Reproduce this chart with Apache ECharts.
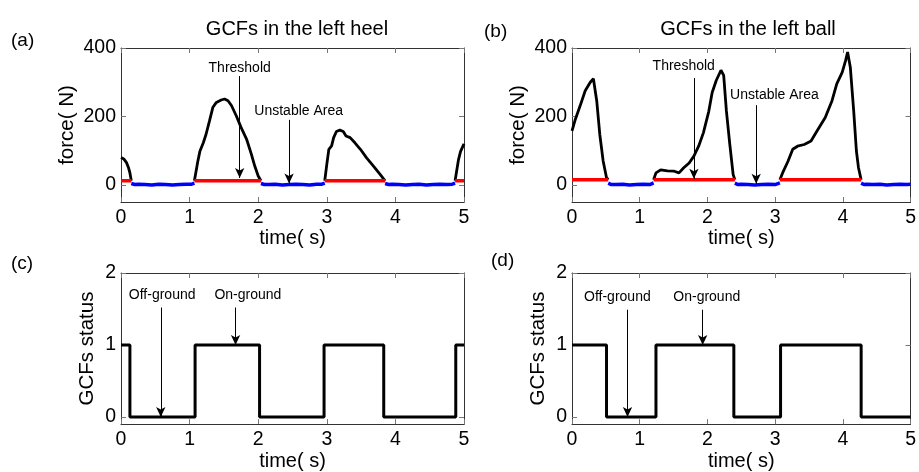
<!DOCTYPE html>
<html><head><meta charset="utf-8">
<script src="https://cdn.jsdelivr.net/npm/echarts@6/dist/echarts.min.js"></script>
<style>html,body{margin:0;padding:0;background:#fff}#c{width:919px;height:472px}</style>
</head><body><div id="c"></div>
<script>
// ---------- data ----------
const timeTicks = [0, 1, 2, 3, 4, 5];
const forceTicks = [0, 200, 400];
const statusTicks = [0, 1, 2];

// (a) left heel force (black, above threshold), null = gap
const heelT = [0, 0.04, 0.08, 0.11, 0.13, 0.15, null,
  1.07, 1.12, 1.15, 1.2, 1.24, 1.29, 1.34, 1.39, 1.46, 1.51, 1.56, 1.61, 1.68, 1.75, 1.83, 1.9, 1.95, 2.0, 2.04, null,
  2.97, 3.0, 3.03, 3.07, 3.1, 3.14, 3.19, 3.24, 3.28, 3.34, 3.41, 3.49, 3.58, 3.68, 3.78, 3.85, null,
  4.87, 4.92, 4.95, 5.0];
const heelF = [80, 76, 65, 50, 35, 12, null,
  12, 69, 98, 123, 148, 187, 227, 241, 248, 251, 246, 232, 202, 168, 134, 90, 55, 26, 12, null,
  12, 60, 104, 114, 138, 156, 160, 156, 143, 138, 123, 104, 79, 55, 30, 12, null,
  12, 74, 98, 120];
const heelThreshold = 12;
const heelOnStart = [0, 1.07, 2.97, 4.87];
const heelOnEnd = [0.15, 2.04, 3.85, 5.0];
// off-ground (blue, unstable area)
const heelOffT = [0.15, 0.2, 0.25, 0.35, 0.45, 0.55, 0.65, 0.75, 0.85, 0.95, 1.03, 1.07, null,
  2.04, 2.09, 2.15, 2.25, 2.35, 2.45, 2.55, 2.65, 2.75, 2.85, 2.93, 2.97, null,
  3.85, 3.9, 3.95, 4.05, 4.15, 4.25, 4.35, 4.45, 4.55, 4.65, 4.75, 4.83, 4.87];
const heelOffV = [4, 1, 2, 1, 0, 2, 1, 0, 1, 2, 2, 5, null,
  4, 1, 1, 2, 0, 1, 2, 1, 0, 2, 2, 5, null,
  4, 1, 2, 1, 0, 1, 2, 0, 1, 2, 1, 2, 5];
const heelStatusT = [0, 0.13, 1.08, 2.02, 2.96, 3.83, 4.88, 5];
const heelStatus = [1, 0, 1, 0, 1, 0, 1, 1];

// (b) left ball force
const ballT = [0, 0.05, 0.12, 0.195, 0.27, 0.316, 0.365, 0.41, 0.46, 0.51, 0.535, null,
  1.205, 1.24, 1.31, 1.41, 1.51, 1.58, 1.65, 1.73, 1.8, 1.87, 1.94, 2.02, 2.07, 2.13, 2.2, 2.24, 2.28, 2.33, 2.38, 2.405, null,
  3.07, 3.11, 3.19, 3.26, 3.33, 3.43, 3.53, 3.62, 3.74, 3.84, 3.91, 3.99, 4.04, 4.07, 4.11, 4.16, 4.2, 4.23, 4.27];
const ballF = [158, 192, 231, 275, 300, 310, 246, 148, 70, 21, 15, null,
  15, 35, 44, 41, 40, 35, 50, 64, 84, 113, 152, 215, 270, 305, 335, 320, 216, 119, 30, 15, null,
  15, 35, 69, 104, 113, 118, 128, 158, 197, 246, 295, 329, 363, 388, 344, 216, 99, 51, 15];
const ballThreshold = 15;
const ballOnStart = [0, 1.205, 3.07];
const ballOnEnd = [0.535, 2.405, 4.27];
const ballOffT = [0.535, 0.58, 0.65, 0.75, 0.85, 0.95, 1.05, 1.15, 1.205, null,
  2.405, 2.45, 2.5, 2.6, 2.7, 2.8, 2.9, 3.0, 3.07, null,
  4.27, 4.31, 4.35, 4.45, 4.55, 4.65, 4.75, 4.85, 4.95, 5.0];
const ballOffV = [5, 1, 1, 2, 0, 1, 2, 1, 6, null,
  5, 1, 2, 1, 0, 1, 2, 1, 6, null,
  5, 1, 2, 1, 2, 0, 1, 2, 1, 2];
const ballStatusT = [0, 0.51, 1.24, 2.39, 3.08, 4.27, 5];
const ballStatus = [1, 0, 1, 0, 1, 0, 0];

// annotations (data coordinates)
const annA = [
  { text: 'Threshold', tx: 1.73, ty: 340, ax: 1.73, y0: 318, y1: 20 },
  { text: 'Unstable Area', tx: 2.59, ty: 215, ax: 2.45, y0: 190, y1: 4 }];
const annB = [
  { text: 'Threshold', tx: 1.65, ty: 346, ax: 1.80, y0: 312, y1: 18 },
  { text: 'Unstable Area', tx: 2.99, ty: 262, ax: 2.72, y0: 233, y1: 3 }];
const annC = [
  { text: 'Off-ground', tx: 0.60, ty: 1.69, ax: 0.58, y0: 1.52, y1: 0 },
  { text: 'On-ground', tx: 1.85, ty: 1.69, ax: 1.67, y0: 1.52, y1: 1 }];
const annD = [
  { text: 'Off-ground', tx: 0.67, ty: 1.66, ax: 0.82, y0: 1.49, y1: 0 },
  { text: 'On-ground', tx: 1.99, ty: 1.66, ax: 1.93, y0: 1.49, y1: 1 }];

// ---------- helpers ----------
const FONT = 'Liberation Sans, Arial, sans-serif';
function segments(t, v) {
  const out = []; let cur = [];
  for (let i = 0; i < t.length; i++) {
    if (t[i] === null) { if (cur.length) out.push(cur); cur = []; }
    else cur.push([t[i], v[i]]);
  }
  if (cur.length) out.push(cur);
  return out;
}
function zip(t, v) { return t.map((x, i) => [x, v[i]]); }

const grids = [
  { left: 121, top: 48, width: 343, height: 154 },
  { left: 572, top: 48, width: 343, height: 154 },
  { left: 121, top: 273, width: 343, height: 154 },
  { left: 572, top: 273, width: 343, height: 154 }];

const axisLineStyle = { color: '#333', width: 1 };
const tickStyle = { color: '#777', width: 1 };
const xAxes = [], yAxes = [];
for (let i = 0; i < 4; i++) {
  const top = i < 2;
  xAxes.push({
    gridIndex: i, type: 'value', min: 0, max: 5, position: 'bottom',
    name: 'time( s)', nameLocation: 'middle', nameGap: 25,
    nameTextStyle: { fontFamily: FONT, fontSize: 20, color: '#000' },
    axisLine: { show: true, onZero: false, lineStyle: axisLineStyle },
    axisTick: { show: true, inside: true, length: 5, lineStyle: tickStyle, customValues: timeTicks },
    axisLabel: { show: true, margin: 6, fontFamily: FONT, fontSize: 19.5, color: '#000', customValues: timeTicks },
    splitLine: { show: false }
  });
  yAxes.push({
    gridIndex: i, type: 'value', position: 'left',
    min: top ? -50 : -0.1, max: top ? 400 : 2,
    name: top ? 'force( N)' : 'GCFs status', nameLocation: 'middle', nameGap: top ? 43 : 23,
    nameTextStyle: { fontFamily: FONT, fontSize: 20.5, color: '#000' },
    axisLine: { show: true, onZero: false, lineStyle: axisLineStyle },
    axisTick: { show: true, inside: true, length: 5, lineStyle: tickStyle, customValues: top ? forceTicks : statusTicks },
    axisLabel: { show: true, margin: 5, fontFamily: FONT, fontSize: 19.5, color: '#000', customValues: top ? forceTicks : statusTicks },
    splitLine: { show: false }
  });
}
for (let i = 0; i < 4; i++) {
  const top = i < 2;
  xAxes.push({
    gridIndex: i, type: 'value', min: 0, max: 5, position: 'top',
    axisLine: { show: true, onZero: false, lineStyle: axisLineStyle },
    axisTick: { show: true, inside: true, length: 5, lineStyle: tickStyle, customValues: timeTicks },
    axisLabel: { show: false }, splitLine: { show: false }
  });
  yAxes.push({
    gridIndex: i, type: 'value', position: 'right',
    min: top ? -50 : -0.1, max: top ? 400 : 2,
    axisLine: { show: true, onZero: false, lineStyle: axisLineStyle },
    axisTick: { show: true, inside: true, length: 5, lineStyle: tickStyle, customValues: top ? forceTicks : statusTicks },
    axisLabel: { show: false }, splitLine: { show: false }
  });
}

const series = [];
function lineSeries(gi, data, color, width, extra) {
  return Object.assign({
    type: 'line', xAxisIndex: gi, yAxisIndex: gi, data: data, showSymbol: false, symbol: 'none',
    lineStyle: { color: color, width: width }, itemStyle: { color: color },
    silent: true, animation: false, emphasis: { disabled: true }
  }, extra || {});
}
function annotations(ann) {
  return {
    markLine: {
      silent: true, animation: false, symbol: ['none', 'arrow'], symbolSize: [7, 10], precision: 4,
      lineStyle: { color: '#000', width: 1, type: 'solid' }, label: { show: false },
      emphasis: { disabled: true },
      data: ann.map(a => [{ coord: [a.ax, a.y0] }, { coord: [a.ax, a.y1] }])
    },
    markPoint: {
      silent: true, animation: false, symbol: 'circle', symbolSize: 1,
      itemStyle: { color: 'rgba(0,0,0,0)' },
      label: { show: true, position: 'inside', color: '#000', fontFamily: FONT, fontSize: 14, formatter: p => p.name },
      data: ann.map(a => ({ name: a.text, coord: [a.tx, a.ty] }))
    }
  };
}

// panel a
segments(heelT, heelF).forEach(s => series.push(lineSeries(0, s, '#000', 2.8)));
heelOnStart.forEach((s, k) => series.push(lineSeries(0, [[s, heelThreshold], [heelOnEnd[k], heelThreshold]], '#ff0000', 3.5)));
segments(heelOffT, heelOffV).forEach(s => series.push(lineSeries(0, s, '#0000ff', 3.5)));
series.push(lineSeries(0, [], '#000', 1, annotations(annA)));
// panel b
segments(ballT, ballF).forEach(s => series.push(lineSeries(1, s, '#000', 2.8)));
ballOnStart.forEach((s, k) => series.push(lineSeries(1, [[s, ballThreshold], [ballOnEnd[k], ballThreshold]], '#ff0000', 3.5)));
segments(ballOffT, ballOffV).forEach(s => series.push(lineSeries(1, s, '#0000ff', 3.5)));
series.push(lineSeries(1, [], '#000', 1, annotations(annB)));
// panel c, d
series.push(lineSeries(2, zip(heelStatusT, heelStatus), '#000', 3, Object.assign({ step: 'end' }, annotations(annC))));
series.push(lineSeries(3, zip(ballStatusT, ballStatus), '#000', 3, Object.assign({ step: 'end' }, annotations(annD))));

const tstyle = { fontFamily: FONT, fontSize: 20, fontWeight: 'normal', color: '#000' };
const pstyle = { fontFamily: FONT, fontSize: 19, fontWeight: 'normal', color: '#000' };
const option = {
  backgroundColor: '#fff',
  animation: false,
  title: [
    { text: 'GCFs in the left heel', left: 292, top: 14, textAlign: 'center', textStyle: tstyle },
    { text: 'GCFs in the left ball', left: 743, top: 14, textAlign: 'center', textStyle: tstyle },
    { text: '(a)', left: 11, top: 31, textStyle: pstyle, padding: 0 },
    { text: '(b)', left: 484, top: 22, textStyle: pstyle, padding: 0 },
    { text: '(c)', left: 11, top: 254, textStyle: pstyle, padding: 0 },
    { text: '(d)', left: 491, top: 251, textStyle: pstyle, padding: 0 }
  ],
  grid: grids,
  xAxis: xAxes,
  yAxis: yAxes,
  series: series
};
const chart = echarts.init(document.getElementById('c'), null, { renderer: 'canvas' });
chart.setOption(option);
</script>
</body></html>
